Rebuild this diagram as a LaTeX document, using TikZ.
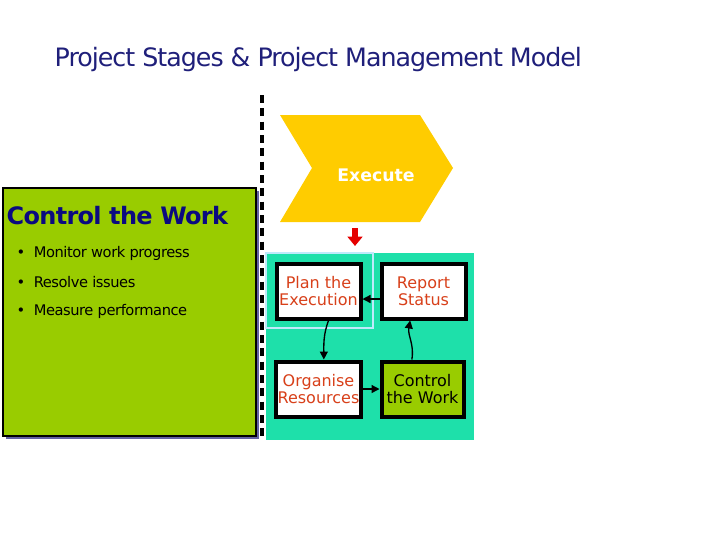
\documentclass[tikz,border=0pt]{standalone}
\usepackage{fontspec}
\setmainfont{DejaVu Sans}
\usetikzlibrary{arrows.meta}
\definecolor{navy}{HTML}{0A0A80}
\definecolor{ttl}{HTML}{1F1F7A}
\definecolor{lime}{HTML}{99CC00}
\definecolor{teal}{HTML}{1EE0AA}
\definecolor{ylw}{HTML}{FFCC00}
\definecolor{org}{HTML}{D8401A}
\tikzset{
 proc/.style={draw=black,line width=3pt,fill=white,minimum width=84pt*0.75,minimum height=55pt*0.75,align=center,font=\fontsize{12}{13}\selectfont,text=org,inner sep=1pt},
 conn/.style={-{Triangle[length=6pt,width=6pt]},line width=1pt},
 bul/.style={anchor=west,font=\fontsize{11}{12}\selectfont\addfontfeature{LetterSpace=-3}}
}
\begin{document}
\begin{tikzpicture}[x=0.75pt,y=-0.75pt]
\useasboundingbox (0,0) rectangle (720,540);
\node[anchor=west,text=ttl,font=\fontsize{19}{22}\selectfont\addfontfeature{LetterSpace=-4}] (title) at (50,60) {Project Stages \& Project Management Model};
\coordinate (dt) at (262,95); \coordinate (db) at (262,440);
\draw[line width=2.5pt,dash pattern=on 6pt off 4pt] (dt) -- (db);
\fill[ylw] (280,115) -- (420,115) -- (453,168) -- (420,222) -- (280,222) -- (312,168) -- cycle;
\node[text=white,font=\bfseries\fontsize{13}{14}\selectfont] (exe) at (376,175) {Execute};
\fill[ttl!70] (6,191) rectangle (259,439);
\draw[fill=lime,line width=1.5pt] (3,188) rectangle (256,436);
\node[anchor=west,text=navy,font=\bfseries\fontsize{18}{20}\selectfont\addfontfeature{LetterSpace=-3}] (ctw) at (2,216) {Control the Work};
\node[bul] (b1) at (12,253) {\textbullet\ \ Monitor work progress};
\node[bul] (b2) at (12,282) {\textbullet\ \ Resolve issues};
\node[bul] (b3) at (12,311) {\textbullet\ \ Measure performance};
\fill[teal] (266,253) rectangle (474,440);
\draw[cyan!25,line width=1pt] (266,253) rectangle (373,328);
\coordinate (ra) at (355,228); \coordinate (rb) at (355,246);
\draw[red!90!black,line width=4pt,-{Triangle[length=7pt,width=11pt]}] (ra) -- (rb);
\node[proc] (plan) at (318.5,291) {Plan the\\Execution};
\node[proc] (rep) at (423.5,291) {Report\\Status};
\node[proc] (orgn) at (318.5,389) {Organise\\Resources};
\node[proc,fill=lime,text=black,minimum width=82pt*0.75] (ctl) at (422.5,389) {Control\\the Work};
\draw[conn] (rep.west|-0,299) -- (plan.east|-0,299);
\draw[conn] (plan.south) ++(10,0) to[out=-110,in=90] ([xshift=4]orgn.north);
\draw[conn] (orgn.east) -- (ctl.west);
\draw[conn] ([xshift=-8]ctl.north) to[out=80,in=-100] ([xshift=-10]rep.south);
\end{tikzpicture}
\end{document}
